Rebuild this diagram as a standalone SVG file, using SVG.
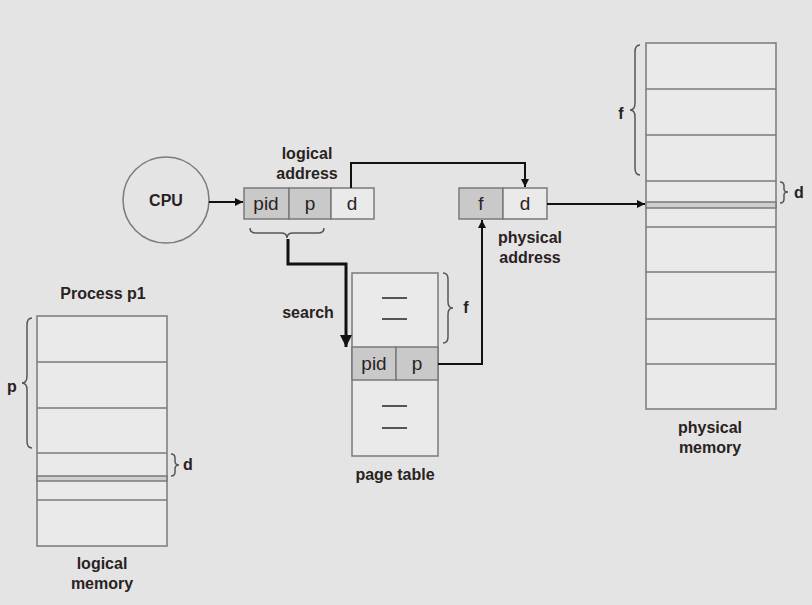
<svg xmlns="http://www.w3.org/2000/svg" width="812" height="605" viewBox="0 0 812 605">
<defs>
<marker id="ah" viewBox="0 0 10 10" refX="10" refY="5" markerWidth="4" markerHeight="4" orient="auto" markerUnits="strokeWidth"><path d="M0,0 L10,5 L0,10 z" fill="#111"/></marker>
<marker id="ahb" viewBox="0 0 10 10" refX="10" refY="5" markerWidth="4" markerHeight="4" orient="auto" markerUnits="strokeWidth"><path d="M0,0 L10,5 L0,10 z" fill="#111"/></marker>
</defs>
<style>
.box{fill:#eaeaea;stroke:#7a7a7a;stroke-width:1.5}
.sh{fill:#c9c9c9;stroke:#7a7a7a;stroke-width:1.5}
.ln{stroke:#7a7a7a;stroke-width:1.5;fill:none}
.dash{stroke:#555;stroke-width:2}
.br{fill:none;stroke:#555;stroke-width:1.5}
.lbl{font-family:"Liberation Sans",Arial,sans-serif;font-weight:bold;font-size:16px;fill:#2a2222;text-anchor:middle}
.cell{font-family:"Liberation Sans",Arial,sans-serif;font-size:19px;fill:#2a2222;text-anchor:middle}
.con{fill:none;stroke:#111;stroke-width:2}
.conb{fill:none;stroke:#111;stroke-width:3}
</style>
<rect width="812" height="605" fill="#e4e4e4"/>

<g id="cpu">
<circle cx="166" cy="200" r="43" fill="#e4e4e4" stroke="#7a7a7a" stroke-width="1.5"/>
<text class="lbl" x="166" y="206">CPU</text>
</g>

<g id="logical-address">
<rect class="sh" x="244" y="188" width="45" height="31"/>
<rect class="sh" x="289" y="188" width="42" height="31"/>
<rect class="box" x="331" y="188" width="43" height="31"/>
<text class="cell" x="266" y="210">pid</text>
<text class="cell" x="310" y="210">p</text>
<text class="cell" x="352" y="210">d</text>
<text class="lbl" x="307" y="159">logical</text>
<text class="lbl" x="307" y="179">address</text>
<path class="br" d="M250,228 Q250,233 256,233 L281,233 Q287,233 287,238 Q287,233 293,233 L318,233 Q324,233 324,228"/>
</g>

<g id="physical-address">
<rect class="sh" x="459" y="188" width="44" height="31"/>
<rect class="box" x="503" y="188" width="44" height="31"/>
<text class="cell" x="481" y="210">f</text>
<text class="cell" x="525" y="210">d</text>
<text class="lbl" x="530" y="243">physical</text>
<text class="lbl" x="530" y="263">address</text>
</g>

<g id="page-table">
<rect class="box" x="352" y="273" width="86" height="183"/>
<rect class="sh" x="352" y="347" width="44" height="33"/>
<rect class="sh" x="396" y="347" width="42" height="33"/>
<text class="cell" x="374" y="370">pid</text>
<text class="cell" x="417" y="370">p</text>
<line class="dash" x1="382" y1="298" x2="407" y2="298"/>
<line class="dash" x1="382" y1="319" x2="407" y2="319"/>
<line class="dash" x1="382" y1="406" x2="407" y2="406"/>
<line class="dash" x1="382" y1="428" x2="407" y2="428"/>
<path class="br" d="M443,273 Q448,273 448,279 L448,302 Q448,308 453,308 Q448,308 448,314 L448,337 Q448,343 443,343"/>
<text class="lbl" x="466" y="313">f</text>
<text class="lbl" x="395" y="480">page table</text>
<text class="lbl" x="308" y="318">search</text>
</g>

<g id="physical-memory">
<rect class="box" x="646" y="43" width="130" height="366" fill="#e4e4e4"/>
<line class="ln" x1="646" y1="89" x2="776" y2="89"/>
<line class="ln" x1="646" y1="135" x2="776" y2="135"/>
<line class="ln" x1="646" y1="181" x2="776" y2="181"/>
<rect x="646" y="202" width="130" height="6" fill="#cfcfcf" stroke="#7a7a7a" stroke-width="1.5"/>
<line class="ln" x1="646" y1="227" x2="776" y2="227"/>
<line class="ln" x1="646" y1="272" x2="776" y2="272"/>
<line class="ln" x1="646" y1="319" x2="776" y2="319"/>
<line class="ln" x1="646" y1="364" x2="776" y2="364"/>
<path class="br" d="M640,45 Q635,45 635,52 L635,103 Q635,110 630,110 Q635,110 635,117 L635,168 Q635,175 640,175"/>
<text class="lbl" x="621" y="119">f</text>
<path class="br" d="M780,182 Q784,182 784,186 L784,189 Q784,192 788,192 Q784,192 784,195 L784,199 Q784,203 780,203"/>
<text class="lbl" x="799" y="198">d</text>
<text class="lbl" x="710" y="433">physical</text>
<text class="lbl" x="710" y="453">memory</text>
</g>

<g id="logical-memory">
<rect class="box" x="37" y="316" width="130" height="230" fill="#e4e4e4"/>
<line class="ln" x1="37" y1="362" x2="167" y2="362"/>
<line class="ln" x1="37" y1="408" x2="167" y2="408"/>
<line class="ln" x1="37" y1="453" x2="167" y2="453"/>
<rect x="37" y="476" width="130" height="5" fill="#cfcfcf" stroke="#7a7a7a" stroke-width="1.5"/>
<line class="ln" x1="37" y1="500" x2="167" y2="500"/>
<path class="br" d="M32,318 Q27,318 27,325 L27,376 Q27,383 22,383 Q27,383 27,390 L27,441 Q27,448 32,448"/>
<text class="lbl" x="12" y="392">p</text>
<path class="br" d="M171,454 Q175,454 175,458 L175,461 Q175,465 179,465 Q175,465 175,469 L175,472 Q175,476 171,476"/>
<text class="lbl" x="188" y="470">d</text>
<text class="lbl" x="103" y="299">Process p1</text>
<text class="lbl" x="102" y="569">logical</text>
<text class="lbl" x="102" y="589">memory</text>
</g>

<g id="connectors">
<path class="con" d="M209,202 L243,202" marker-end="url(#ah)"/>
<path class="con" d="M351,188 L351,163 L525,163 L525,187" marker-end="url(#ah)"/>
<path class="con" d="M547,204 L645,204" marker-end="url(#ah)"/>
<path class="conb" d="M288,239 L288,264 L346,264 L346,347" marker-end="url(#ahb)"/>
<path class="con" d="M438,364 L482,364 L482,220" marker-end="url(#ah)"/>
</g>
</svg>
